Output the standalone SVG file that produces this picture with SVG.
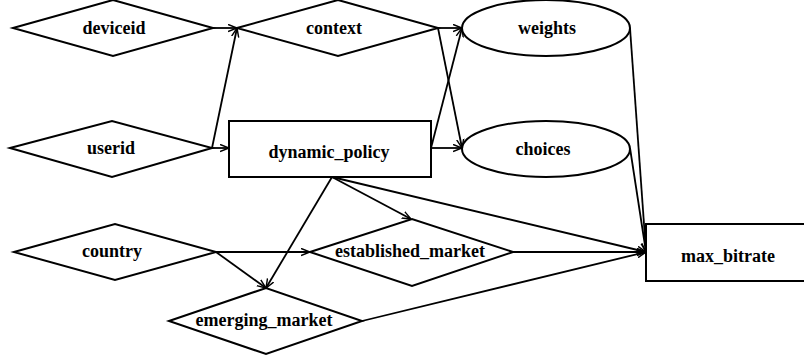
<svg xmlns="http://www.w3.org/2000/svg" width="804" height="362" viewBox="0 0 804 362">
<style>
.s{fill:#fff;stroke:#000;stroke-width:2}
.t{font-family:'Liberation Serif','Times New Roman',serif;font-weight:bold;font-size:18px;text-anchor:middle;fill:#000}
.c{fill:none;stroke:#000;stroke-width:1.8}
</style>
<defs>
<marker id="a" viewBox="0 0 10 10" refX="10" refY="5" markerWidth="9" markerHeight="9" markerUnits="userSpaceOnUse" orient="auto">
<path d="M0,1 L10,5 L0,9" fill="none" stroke="#000" stroke-width="1.6"/>
</marker>
</defs>
<rect width="804" height="362" fill="#fff"/>
<g id="connectors">
<line class="c" x1="213" y1="28" x2="237" y2="28" marker-end="url(#a)"/>
<line class="c" x1="212" y1="148" x2="237" y2="28" marker-end="url(#a)"/>
<line class="c" x1="212" y1="148" x2="229" y2="148" marker-end="url(#a)"/>
<line class="c" x1="438" y1="28" x2="462" y2="28" marker-end="url(#a)"/>
<line class="c" x1="438" y1="28" x2="462" y2="148" marker-end="url(#a)"/>
<line class="c" x1="431" y1="148" x2="462" y2="28" marker-end="url(#a)"/>
<line class="c" x1="431" y1="148" x2="462" y2="148" marker-end="url(#a)"/>
<line class="c" x1="630" y1="28" x2="646" y2="252" marker-end="url(#a)"/>
<line class="c" x1="630" y1="148" x2="646" y2="252" marker-end="url(#a)"/>
<line class="c" x1="332" y1="177" x2="646" y2="252" marker-end="url(#a)"/>
<line class="c" x1="332" y1="177" x2="411" y2="219" marker-end="url(#a)"/>
<line class="c" x1="332" y1="177" x2="266" y2="288" marker-end="url(#a)"/>
<line class="c" x1="216" y1="252" x2="310" y2="252" marker-end="url(#a)"/>
<line class="c" x1="216" y1="252" x2="266" y2="288" marker-end="url(#a)"/>
<line class="c" x1="513" y1="252" x2="646" y2="252" marker-end="url(#a)"/>
<line class="c" x1="362" y1="321" x2="646" y2="252" marker-end="url(#a)"/>
</g>
<g id="deviceid">
<polygon class="s" points="13,28 113,0 213,28 113,56"/>
<text class="t" x="114" y="34">deviceid</text>
</g>
<g id="context">
<polygon class="s" points="237,28 338,0 438,28 338,56"/>
<text class="t" x="334" y="34">context</text>
</g>
<g id="weights">
<ellipse class="s" cx="546" cy="28" rx="84" ry="28"/>
<text class="t" x="547" y="34">weights</text>
</g>
<g id="userid">
<polygon class="s" points="10,148 112,121 212,148 112,177"/>
<text class="t" x="111" y="154">userid</text>
</g>
<g id="dynamic_policy">
<rect class="s" x="229" y="121" width="202" height="56"/>
<text class="t" x="329" y="158">dynamic_policy</text>
</g>
<g id="choices">
<ellipse class="s" cx="546" cy="149" rx="84" ry="28"/>
<text class="t" x="543" y="155">choices</text>
</g>
<g id="country">
<polygon class="s" points="14,252 115,224 216,252 115,280"/>
<text class="t" x="112" y="257">country</text>
</g>
<g id="established_market">
<polygon class="s" points="310,252 412,219 513,252 412,286"/>
<text class="t" x="410" y="257">established_market</text>
</g>
<g id="emerging_market">
<polygon class="s" points="169,321 266,288 362,321 266,354"/>
<text class="t" x="264" y="326">emerging_market</text>
</g>
<g id="max_bitrate">
<rect class="s" x="646" y="224" width="162" height="57"/>
<text class="t" x="728" y="262">max_bitrate</text>
</g>
</svg>
